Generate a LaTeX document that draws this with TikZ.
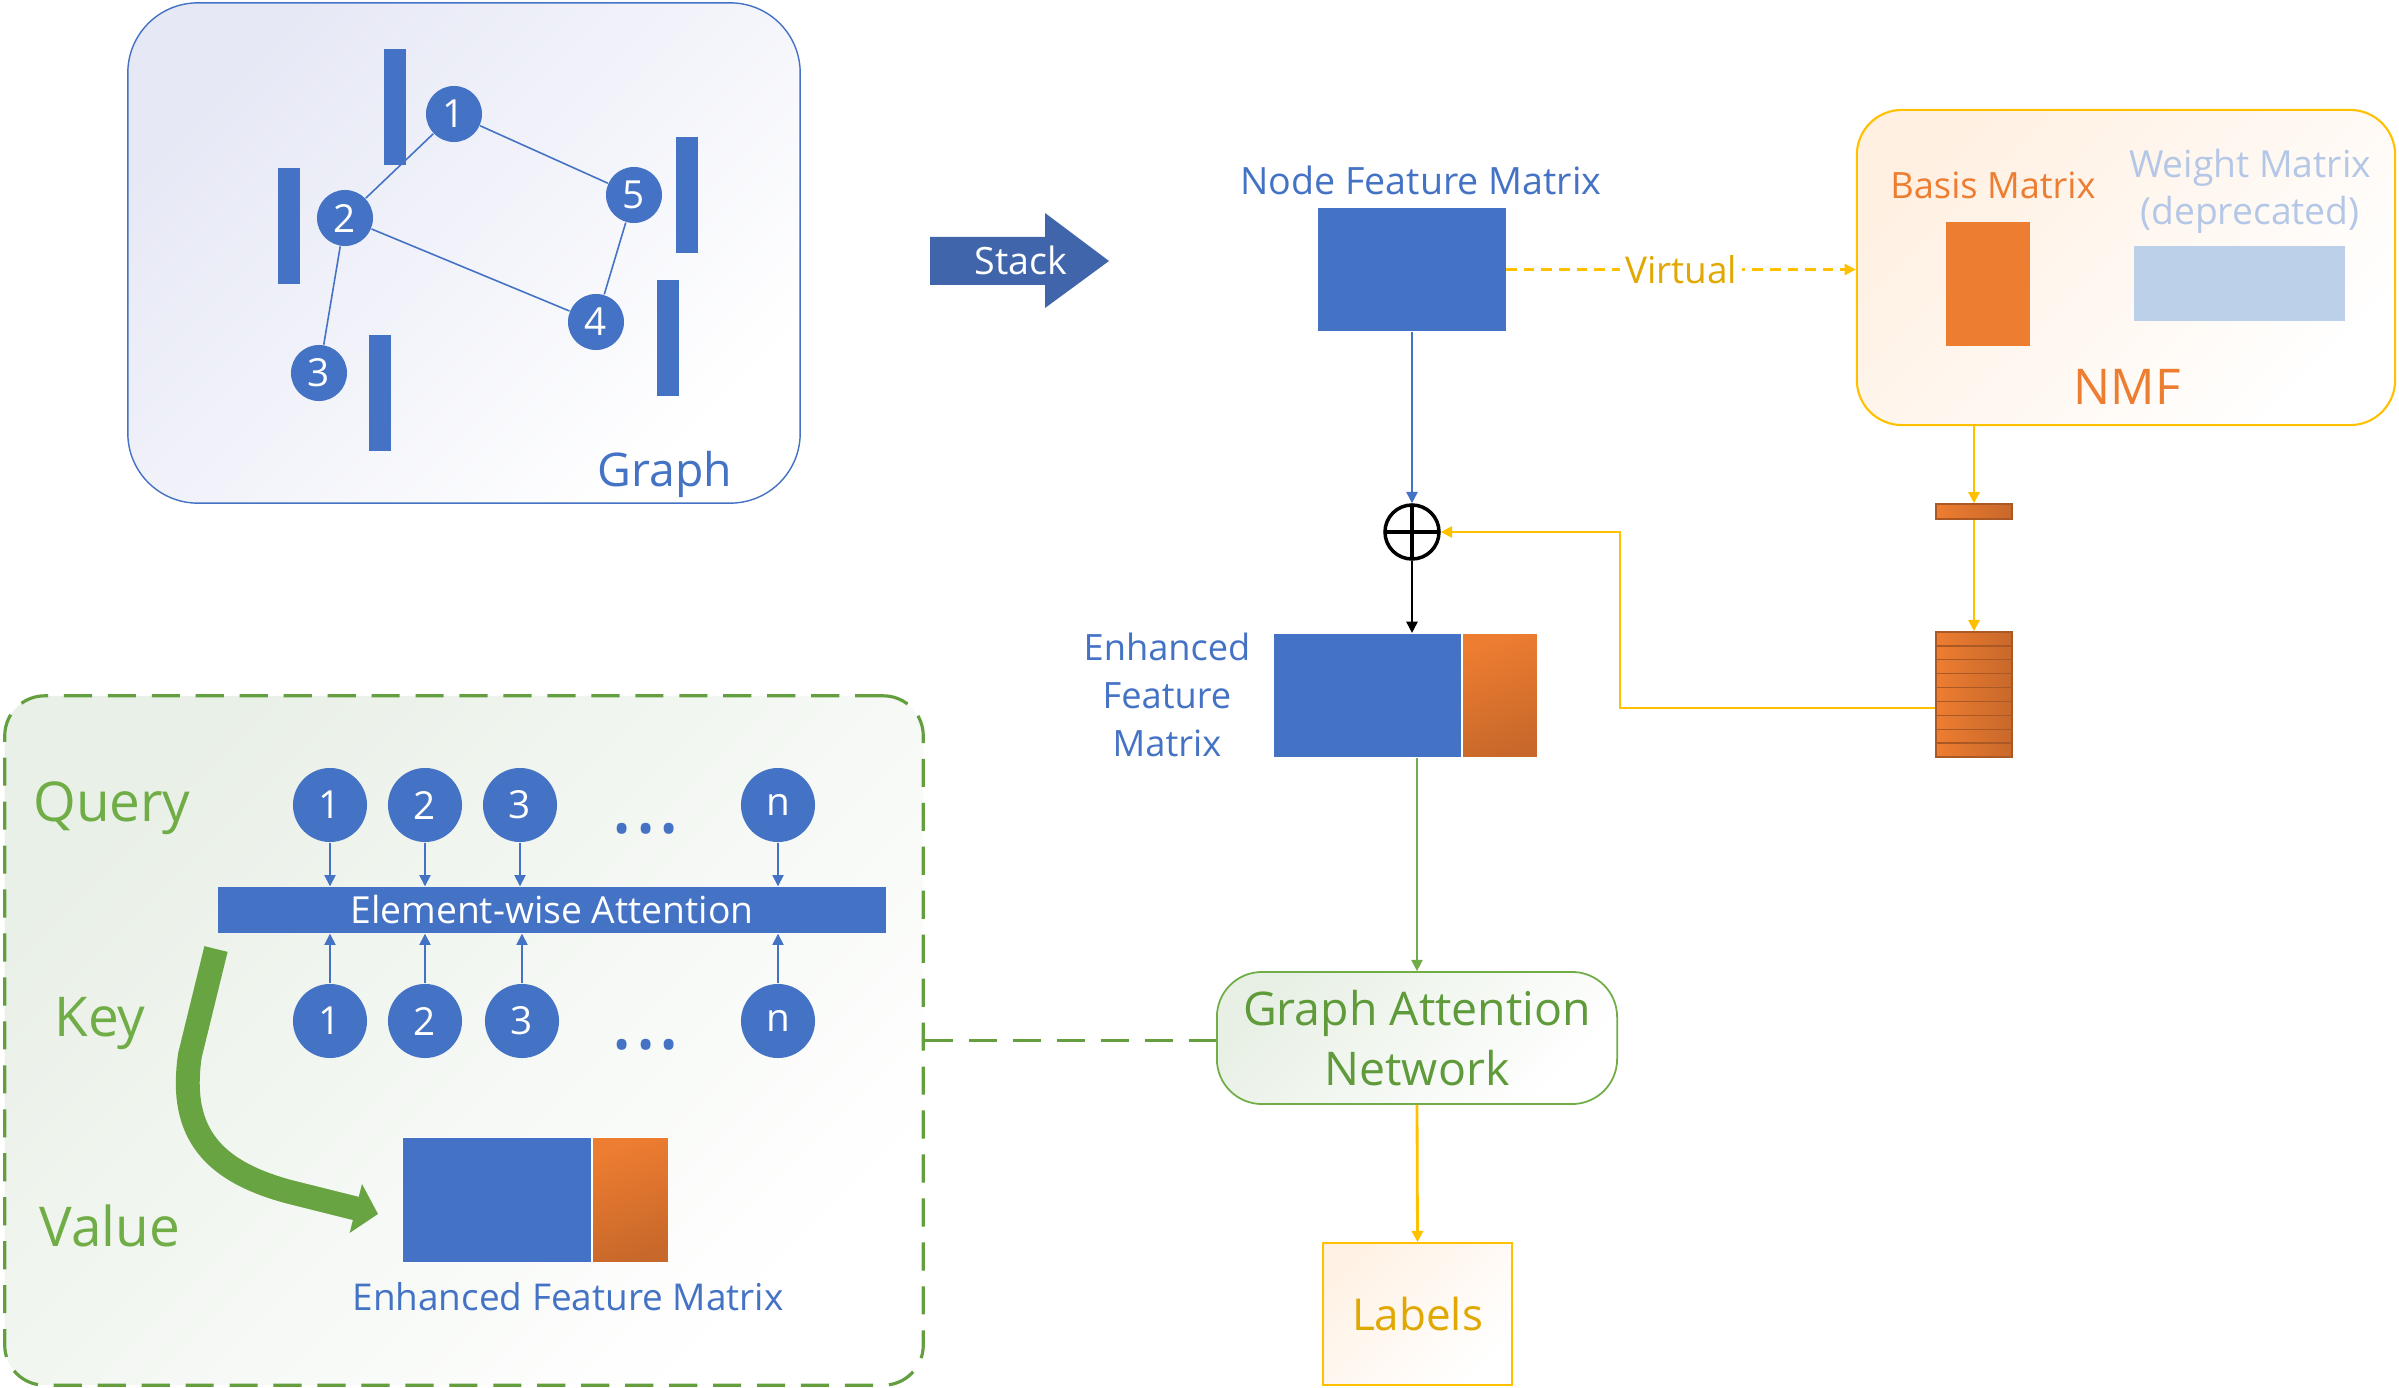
\documentclass[tikz,border=0pt]{standalone}
\usepackage{fontspec}
\setmainfont{Open Sans}
\usetikzlibrary{calc,arrows.meta}
\definecolor{myblue}{RGB}{68,114,196}
\definecolor{stackblue}{RGB}{64,101,170}
\definecolor{myorange}{RGB}{237,125,49}
\definecolor{darkorange}{RGB}{200,104,42}
\definecolor{mygold}{RGB}{255,192,0}
\definecolor{goldtext}{RGB}{224,168,0}
\definecolor{mygreen}{RGB}{112,173,71}
\definecolor{gantext}{RGB}{95,155,58}
\definecolor{dashgreen}{RGB}{99,159,63}
\definecolor{arrowgreen}{RGB}{104,165,66}
\definecolor{paleblue}{RGB}{189,208,233}
\definecolor{weighttext}{RGB}{180,199,231}
\definecolor{graphtint}{RGB}{230,232,245}
\definecolor{nmftint}{RGB}{255,240,226}
\definecolor{gattint}{RGB}{232,240,229}
\definecolor{labeltint}{RGB}{255,242,229}
\definecolor{atttint}{RGB}{233,240,231}
\newcommand{\fsz}[2]{\fontsize{#1}{#2}\selectfont}

\begin{document}
\begin{tikzpicture}[x=0.01cm,y=-0.01cm,
    every node/.style={inner sep=0pt},
    gnode/.style={circle,fill=myblue,text=white,minimum size=0.56cm,font=\fsz{11}{13}},
    qnode/.style={circle,fill=myblue,text=white,minimum size=0.74cm,font=\fsz{11}{13}},
    bar/.style={rectangle,fill=myblue,minimum width=0.21cm,minimum height=1.15cm},
    tint/.style={top color=#1,middle color=#1!20!white,bottom color=white,shading angle=45},
    orangemat/.style={rectangle,draw=white,line width=0.3pt,top color=myorange,bottom color=darkorange,shading angle=20},
    stripe/.style={rectangle,draw=darkorange!85!black,line width=0.4pt,left color=myorange,right color=darkorange,minimum width=0.76cm},
    arr/.style={-{Triangle[length=3.2pt,width=3.2pt]}},
    thinblue/.style={myblue,line width=0.45pt},
    goldline/.style={mygold,line width=0.6pt},
    dashgreenline/.style={draw=dashgreen,line width=0.9pt,dash pattern=on 8pt off 4.5pt},
    dotrow/.style={text=myblue,font=\fsz{13}{15}}]

    \useasboundingbox (0,0) rectangle (2399,1388);

    %graph
    \node[rectangle,rounded corners=0.7cm,draw=myblue,line width=0.4pt,tint=graphtint,minimum width=6.72cm,minimum height=5cm] (graphbox) at (464,253) {};

        \node[bar] (b1) at (395,107) {};
        \node[bar] (b2) at (289,226) {};
        \node[bar] (b5) at (687,195) {};
        \node[bar] (b4) at (668,338) {};
        \node[bar] (b3) at (380,393) {};

        \node[gnode] (g1) at (454,114) {1};
        \node[gnode] (g2) at (345,218) {2};
        \node[gnode] (g5) at (634,195) {5};
        \node[gnode] (g4) at (596,322) {4};
        \node[gnode] (g3) at (319,373) {3};
        \draw[thinblue] (g1) -- (g2);
        \draw[thinblue] (g1) -- (g5);
        \draw[thinblue] (g2) -- (g4);
        \draw[thinblue] (g5) -- (g4);
        \draw[thinblue] (g2) -- (g3);

        \node[text=myblue,font=\fsz{13.2}{15}] (graphlbl) at (665,474) {Graph};

    %stack
    \fill[stackblue] (930,237) -- (1045,237) -- (1045,213) -- (1109,261) -- (1045,308) -- (1045,285) -- (930,285) -- cycle;
    \node[text=white,font=\fsz{10.7}{13}] (stack) at (1021,260) {Stack};

    %node features
    \node[rectangle,fill=myblue,minimum width=1.87cm,minimum height=1.23cm] (nfm) at (1412,269.5) {};
    \node[text=myblue,font=\fsz{10.7}{13}] (nfmlbl) at (1421,180) {Node Feature Matrix};

    %nmf
    \node[rectangle,rounded corners=0.45cm,draw=mygold,line width=0.6pt,tint=nmftint,minimum width=5.38cm,minimum height=3.15cm] (nmfbox) at (2126,267.5) {};
        \node[text=myorange,font=\fsz{10.3}{13}] (basislbl) at (1993,185) {Basis Matrix};
        \node[rectangle,fill=myorange,minimum width=0.84cm,minimum height=1.24cm] (basis) at (1988,284) {};
        \node[text=weighttext,font=\fsz{10.6}{13.4},align=center] (weightlbl) at (2250,191) {Weight Matrix\\(deprecated)};
        \node[rectangle,fill=paleblue,minimum width=2.11cm,minimum height=0.75cm] (weight) at (2239.5,283.5) {};
        \node[text=myorange,font=\fsz{14}{16}] (nmflbl) at (2127,387) {NMF};
    \draw[goldline,dash pattern=on 3pt off 2pt,arr] (nfm.east) -- node[fill=white,inner xsep=1.5pt,text=goldtext,font=\fsz{10.5}{13}] (virtual) {Virtual} (nfm.east -| nmfbox.west);

    %sum
    \node[circle,draw=black,line width=1pt,minimum size=0.54cm,
        path picture={\draw[line width=1.4pt] (path picture bounding box.north) -- (path picture bounding box.south) (path picture bounding box.west) -- (path picture bounding box.east);}] (oplus) at (1412,532) {};
    \draw[thinblue,arr] (nfm.south) -- (oplus.north);

    \node[rectangle,fill=myblue,draw=white,line width=0.3pt,minimum width=1.87cm,minimum height=1.24cm] (enh) at (1367.5,695.5) {};
    \node[orangemat,minimum width=0.75cm,minimum height=1.24cm,anchor=west] (enhside) at (enh.east) {};
    \node[text=myblue,font=\fsz{10.3}{13.7},align=center] (enhlbl) at (1167,695) {Enhanced\\Feature\\Matrix};
    \draw[black,line width=0.5pt,arr] (oplus.south) -- (oplus.south |- enh.north);

    %basis column
    \node[stripe,minimum height=0.15cm] (sbar) at (1974,511.5) {};
    \foreach \i in {0,...,8}
        \node[stripe,minimum height=0.139cm] (st\i) at (1974,638.9+13.9*\i) {};
    \draw[goldline,arr] (sbar.north |- nmfbox.south) -- (sbar.north);
    \draw[goldline,arr] (sbar.south) -- (st0.north);
    \coordinate (turn) at (1620,532);
    \draw[goldline,arr] (st5.west) -| (turn) -- (oplus.east);

    %gat and labels
    \node[rectangle,rounded corners=0.45cm,draw=mygreen,line width=0.5pt,tint=gattint,minimum width=4cm,minimum height=1.32cm,text=gantext,font=\fsz{13.2}{17},align=center] (gat) at (1417,1038) {Graph Attention\\Network};
    \draw[mygreen,line width=0.5pt,arr] (gat.north |- enh.south) -- (gat.north);
    \node[rectangle,draw=mygold,line width=0.5pt,tint=labeltint,minimum width=1.89cm,minimum height=1.42cm,text=goldtext,font=\fsz{12.5}{15}] (labels) at (1417.5,1314) {Labels};
    \draw[mygold,line width=0.8pt,arr] (gat.south) -- (labels.north);

    %attention detail
    \node[rectangle,rounded corners=0.4cm,dashgreenline,tint=atttint,minimum width=9.18cm,minimum height=6.89cm] (attbox) at (464,1040.5) {};
    \draw[dashgreenline] (attbox.east) -- (attbox.east -| gat.west);

        \node[text=mygreen,font=\fsz{15.6}{18}] (query) at (112,808) {Query};
        \node[text=mygreen,font=\fsz{15.6}{18}] (key) at (100,1024) {Key};
        \node[text=mygreen,font=\fsz{15.6}{18}] (value) at (110,1226) {Value};

        \node[rectangle,fill=myblue,minimum width=6.67cm,minimum height=0.46cm,text=white,font=\fsz{10.6}{12}] (att) at (552,910) {Element-wise Attention};
        \foreach \n/\x in {1/330,2/425,3/520,n/778} {
            \node[qnode] (q\n) at (\x,805) {\n};
            \draw[thinblue,arr] (q\n.south) -- (q\n.south |- att.north);
        }
        \foreach \n/\x in {1/330,2/425,3/522,n/778} {
            \node[qnode] (k\n) at (\x,1021) {\n};
            \draw[thinblue,arr] (k\n.north) -- (k\n.north |- att.south);
        }
        \node[dotrow] (qdots) at (646,834) {\textbullet\hspace{1.8pt}\textbullet\hspace{1.8pt}\textbullet};
        \node[dotrow] (kdots) at (646,1050) {\textbullet\hspace{1.8pt}\textbullet\hspace{1.8pt}\textbullet};

        \draw[arrowgreen,line width=6.8pt,-{Triangle[length=6.5pt,width=14pt]}] (216,949) -- (190,1055) .. controls (178,1135) and (215,1172) .. (290,1192) -- (378,1214);

        \node[rectangle,fill=myblue,draw=white,line width=0.3pt,minimum width=1.89cm,minimum height=1.24cm] (enh2) at (497,1200) {};
        \node[orangemat,minimum width=0.76cm,minimum height=1.24cm,anchor=west] (enh2side) at (enh2.east) {};
        \node[text=myblue,font=\fsz{10.5}{13}] (enh2lbl) at (568,1297) {Enhanced Feature Matrix};
\end{tikzpicture}
\end{document}
